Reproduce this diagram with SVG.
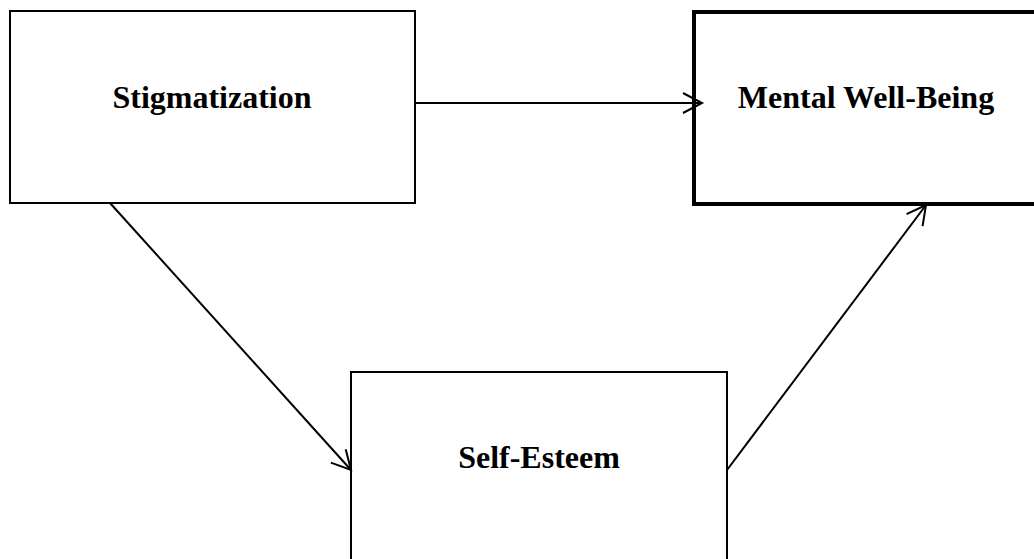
<svg xmlns="http://www.w3.org/2000/svg" width="1034" height="559" viewBox="0 0 1034 559">
<style>
.box{fill:#fff;stroke:#000;stroke-width:2}
.thick{stroke-width:4}
.lbl{font-family:"Liberation Serif",serif;font-weight:bold;font-size:32px;text-anchor:middle;fill:#000}
.edge{stroke:#000;stroke-width:2;fill:none;marker-end:url(#arr)}
</style>
<defs>
<marker id="arr" markerUnits="userSpaceOnUse" markerWidth="30" markerHeight="30" refX="20" refY="10" orient="auto" overflow="visible">
<path d="M1,0 L20,10 L1,20" fill="none" stroke="#000" stroke-width="2"/>
</marker>
</defs>
<g id="stigmatization">
<rect class="box" x="10" y="11" width="405" height="192"/>
<text class="lbl" x="212" y="108">Stigmatization</text>
</g>
<g id="mental-well-being">
<rect class="box thick" x="694" y="12" width="346" height="192"/>
<text class="lbl" x="866" y="108">Mental Well-Being</text>
</g>
<g id="self-esteem">
<rect class="box" x="351" y="372" width="376" height="200"/>
<text class="lbl" x="539" y="468">Self-Esteem</text>
</g>
<g id="connectors">
<line class="edge" x1="415" y1="103" x2="702" y2="103"/>
<line class="edge" x1="110" y1="203" x2="351" y2="470"/>
<line class="edge" x1="727" y1="470" x2="926" y2="205"/>
</g>
</svg>
